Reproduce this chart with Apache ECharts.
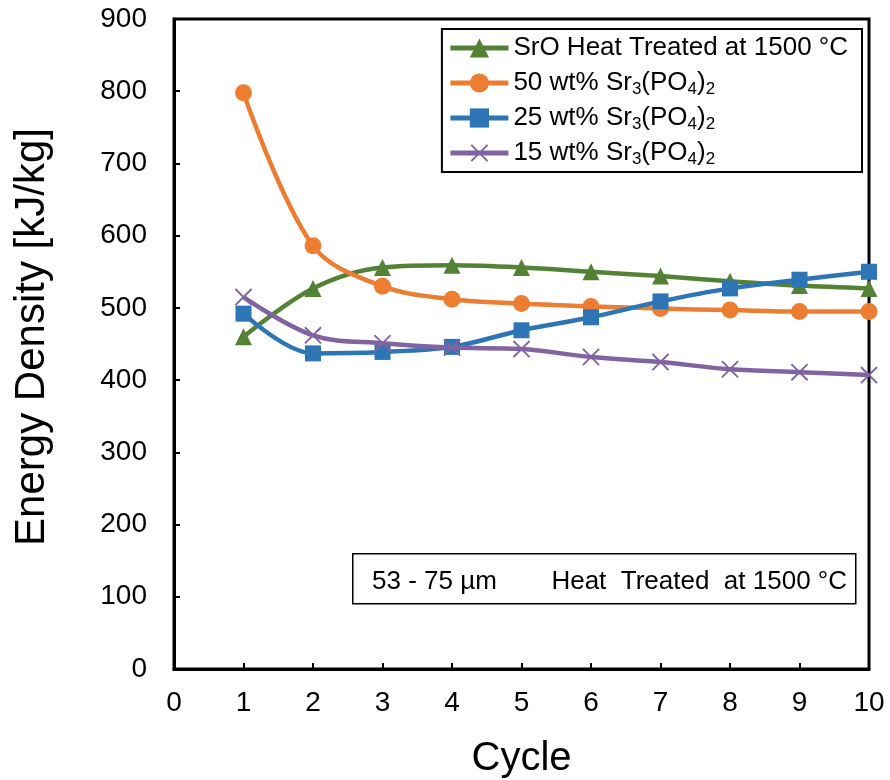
<!DOCTYPE html>
<html>
<head>
<meta charset="utf-8">
<script src="https://cdn.jsdelivr.net/npm/echarts@6/dist/echarts.min.js"></script>
<style>html,body{margin:0;padding:0;background:#fff}#c{width:890px;height:780px}</style>
</head>
<body>
<div id="c"></div>
<script>
const cycles = [1,2,3,4,5,6,7,8,9,10];
const sroHT = [460,527,556,559,556,550,544,537,531,527];
const wt50 = [798,586,530,512,506,502,499,497,495,495];
const wt25 = [492,437,439,446,469,487,509,527,539,550];
const wt15 = [515,462,451,445,443,432,425,415,411,407];
const xTicks = [0,1,2,3,4,5,6,7,8,9,10];
const yTicks = [0,100,200,300,400,500,600,700,800,900];
const seriesNames = ['SrO Heat Treated at 1500 °C','50 wt% Sr₃(PO₄)₂','25 wt% Sr₃(PO₄)₂','15 wt% Sr₃(PO₄)₂'];
const legendRich = {
  'SrO Heat Treated at 1500 °C': 'SrO Heat Treated at 1500 °C',
  '50 wt% Sr₃(PO₄)₂': '50 wt% Sr{s|3}(PO{s|4}){s|2}',
  '25 wt% Sr₃(PO₄)₂': '25 wt% Sr{s|3}(PO{s|4}){s|2}',
  '15 wt% Sr₃(PO₄)₂': '15 wt% Sr{s|3}(PO{s|4}){s|2}'
};
const colors = ['#548235','#ED7D31','#2E75B6','#8064A2'];
const crossImg = 'image://data:image/svg+xml;utf8,' + encodeURIComponent('<svg xmlns="http://www.w3.org/2000/svg" width="40" height="40"><path d="M3 3L37 37M37 3L3 37" stroke="#8064A2" stroke-width="4"/></svg>');
const symbols = ['triangle','circle','rect',crossImg];
const sizes = [17,17,16,19];
const datas = [sroHT, wt50, wt25, wt15];

const chart = echarts.init(document.getElementById('c'), null, {renderer:'canvas'});
const FONT = 'Liberation Sans, Arial, sans-serif';
chart.setOption({
  animation:false,
  backgroundColor:'#fff',
  color: colors,
  grid:{left:174,right:21,top:19,bottom:111,show:true,borderColor:'#000',borderWidth:3,backgroundColor:'transparent',containLabel:false,outerBoundsMode:'none'},
  xAxis:{
    type:'value',min:0,max:10,interval:1,
    name:'Cycle',nameLocation:'middle',nameGap:70,
    nameTextStyle:{fontFamily:FONT,fontSize:40,color:'#000'},
    axisLine:{show:true,onZero:false,lineStyle:{color:'#000',width:3}},
    axisTick:{show:true,inside:true,length:6,lineStyle:{color:'#000',width:2}},
    axisLabel:{fontFamily:FONT,fontSize:28,color:'#000',margin:20,formatter:v=>xTicks.includes(v)?String(v):''},
    splitLine:{show:false}
  },
  yAxis:{
    type:'value',min:0,max:900,interval:100,
    name:'Energy Density [kJ/kg]',nameLocation:'middle',nameGap:121,
    nameTextStyle:{fontFamily:FONT,fontSize:42,color:'#000',padding:[0,0,0,14]},
    axisLine:{show:true,onZero:false,lineStyle:{color:'#000',width:3}},
    axisTick:{show:true,inside:true,length:6,lineStyle:{color:'#000',width:2}},
    axisLabel:{fontFamily:FONT,fontSize:28,color:'#000',margin:27,formatter:v=>yTicks.includes(v)?String(v):''},
    splitLine:{show:false}
  },
  legend:{
    show:true,orient:'vertical',right:28,top:29,
    backgroundColor:'#fff',borderColor:'#000',borderWidth:2,
    padding:[4,14,4,6],itemGap:5,itemWidth:58,itemHeight:24,
    lineStyle:{width:5},
    data:seriesNames,
    formatter:n=>legendRich[n],
    textStyle:{fontFamily:FONT,fontSize:26,color:'#000',lineHeight:30,
      rich:{s:{fontFamily:FONT,fontSize:17,color:'#000',lineHeight:18,verticalAlign:'bottom'}}}
  },
  graphic:[
    {type:'rect',left:352,top:553,shape:{width:503,height:50},style:{fill:'#fff',stroke:'#000',lineWidth:1.5},z:10},
    {type:'text',left:372,top:569,style:{text:'53 - 75 µm',font:'26px '+FONT,fill:'#000'},z:11},
    {type:'text',right:43,top:569,style:{text:'Heat  Treated  at 1500 °C',font:'26px '+FONT,fill:'#000'},z:11}
  ],
  series: seriesNames.map((n,i)=>({
    name:n,type:'line',smooth:0.35,
    data: cycles.map((c,j)=>[c,datas[i][j]]),
    symbol: symbols[i], symbolSize: sizes[i],
    showAllSymbol:true,
    lineStyle:{width:4.5,color:colors[i]},
    itemStyle:{color:colors[i]},
    z: 2+i
  }))
});
</script>
</body>
</html>
